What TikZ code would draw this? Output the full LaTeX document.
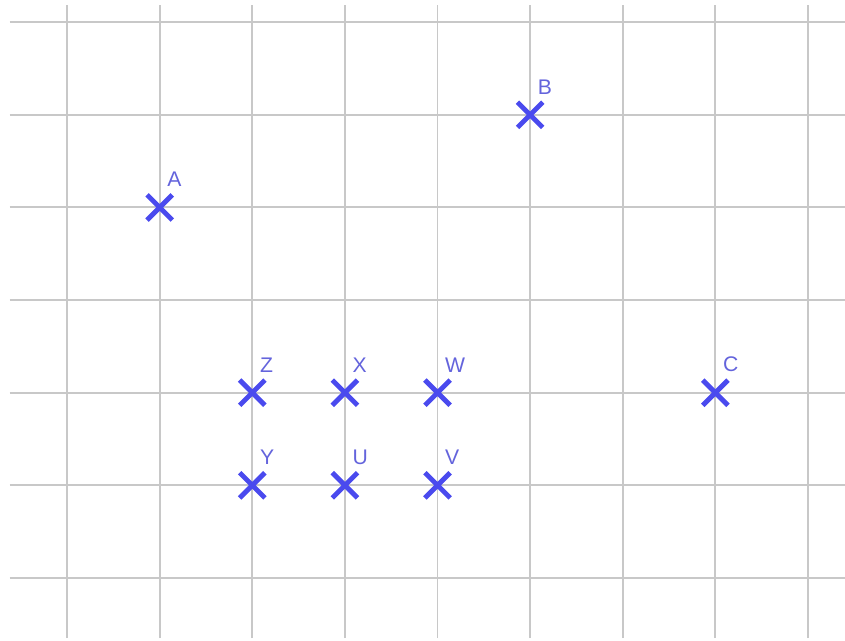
\documentclass[tikz,border=0pt]{standalone}
\usepackage{fontspec}
\setmainfont{Liberation Sans}
\usepackage{tikz}
\usetikzlibrary{shapes.misc, positioning}
\definecolor{gridgray}{HTML}{C8C8C8}
\definecolor{ptblue}{HTML}{4A4AEE}
\definecolor{lblblue}{HTML}{6464DC}

\begin{document}
\begin{tikzpicture}[
  gridline/.style={gridgray, line width=0.6pt},
  pt/.style={cross out, draw=ptblue, line width=1.5pt,
             minimum size=0.22cm, inner sep=0pt},
  lbl/.style={font=\fontsize{6.5}{7.5}\selectfont, text=lblblue, inner sep=0pt},
]
  \useasboundingbox (-0.724,-0.68) rectangle (8.40,6.24);

  % grid
  \foreach \x in {0,...,8}
    \draw[gridline] (\x,-0.65) -- (\x,6.19);
  \foreach \y in {0,...,6}
    \draw[gridline] (-0.62,\y) -- (8.40,\y);

  % points
  \node[pt] (A) at (1,4) {};
  \node[pt] (B) at (5,5) {};
  \node[pt] (C) at (7,2) {};
  \node[pt] (Z) at (2,2) {};
  \node[pt] (X) at (3,2) {};
  \node[pt] (W) at (4,2) {};
  \node[pt] (Y) at (2,1) {};
  \node[pt] (U) at (3,1) {};
  \node[pt] (V) at (4,1) {};

  % labels
  \node[lbl, above right=0.08cm and -0.06cm of A] (lA) {A};
  \node[lbl, above right=0.08cm and -0.06cm of B] (lB) {B};
  \node[lbl, above right=0.08cm and -0.06cm of C] (lC) {C};
  \node[lbl, above right=0.08cm and -0.06cm of Z] (lZ) {Z};
  \node[lbl, above right=0.08cm and -0.06cm of X] (lX) {X};
  \node[lbl, above right=0.08cm and -0.06cm of W] (lW) {W};
  \node[lbl, above right=0.08cm and -0.06cm of Y] (lY) {Y};
  \node[lbl, above right=0.08cm and -0.06cm of U] (lU) {U};
  \node[lbl, above right=0.08cm and -0.06cm of V] (lV) {V};
\end{tikzpicture}
\end{document}
